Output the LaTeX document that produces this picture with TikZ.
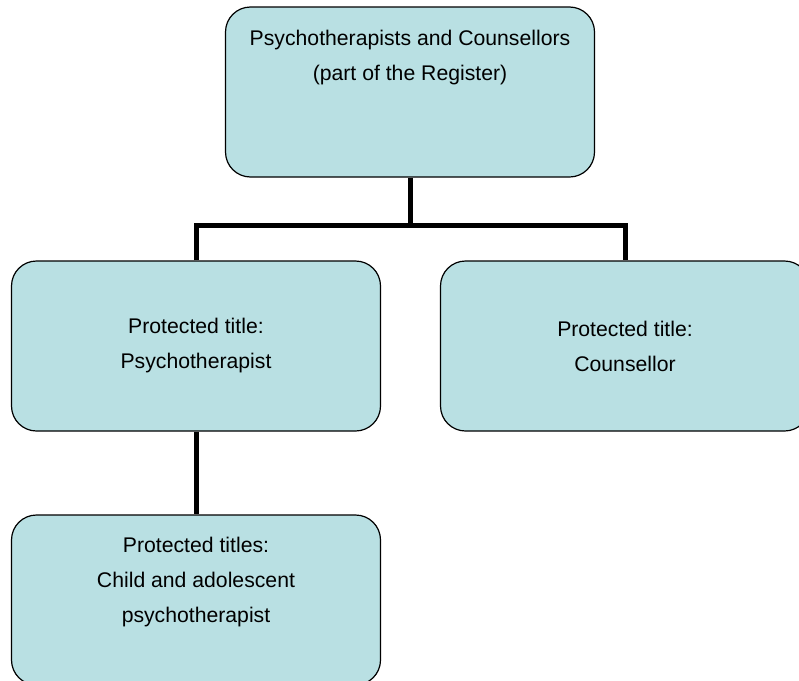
\documentclass[tikz,border=0pt]{standalone}
\usepackage{fontspec}
\setmainfont{Liberation Sans}
\definecolor{boxfill}{RGB}{185,224,227}
\tikzset{
  font={\fontsize{21.2pt}{35pt}\selectfont},
  titlebox/.style={draw=black, line width=1.2pt, fill=boxfill, rounded corners=25pt,
    minimum width=369pt, minimum height=170pt, align=center, inner sep=0pt},
  link/.style={line width=5pt}}

\begin{document}
\begin{tikzpicture}[x=1pt,y=-1pt]
\useasboundingbox (0,0) rectangle (799,680);
\clip (0,0) rectangle (799,680);
\node[titlebox] (register) at (410,92) {Psychotherapists and Counsellors\\(part of the Register)\\\strut\\[-8pt]\strut};
\node[titlebox] (psychotherapist) at (196,346) {Protected title:\\Psychotherapist};
\node[titlebox] (counsellor) at (625,346) {Protected title:\\Counsellor};
\node[titlebox] (child) at (196,600) {Protected titles:\\Child and adolescent\\psychotherapist\\[-6pt]\strut};
\coordinate (bus) at (410,225);
\draw[link] (register.south) -- (bus);
\draw[link] (psychotherapist.north) |- (bus) -| (counsellor.north);
\draw[link] (psychotherapist.south) -- (child.north);
\end{tikzpicture}
\end{document}
